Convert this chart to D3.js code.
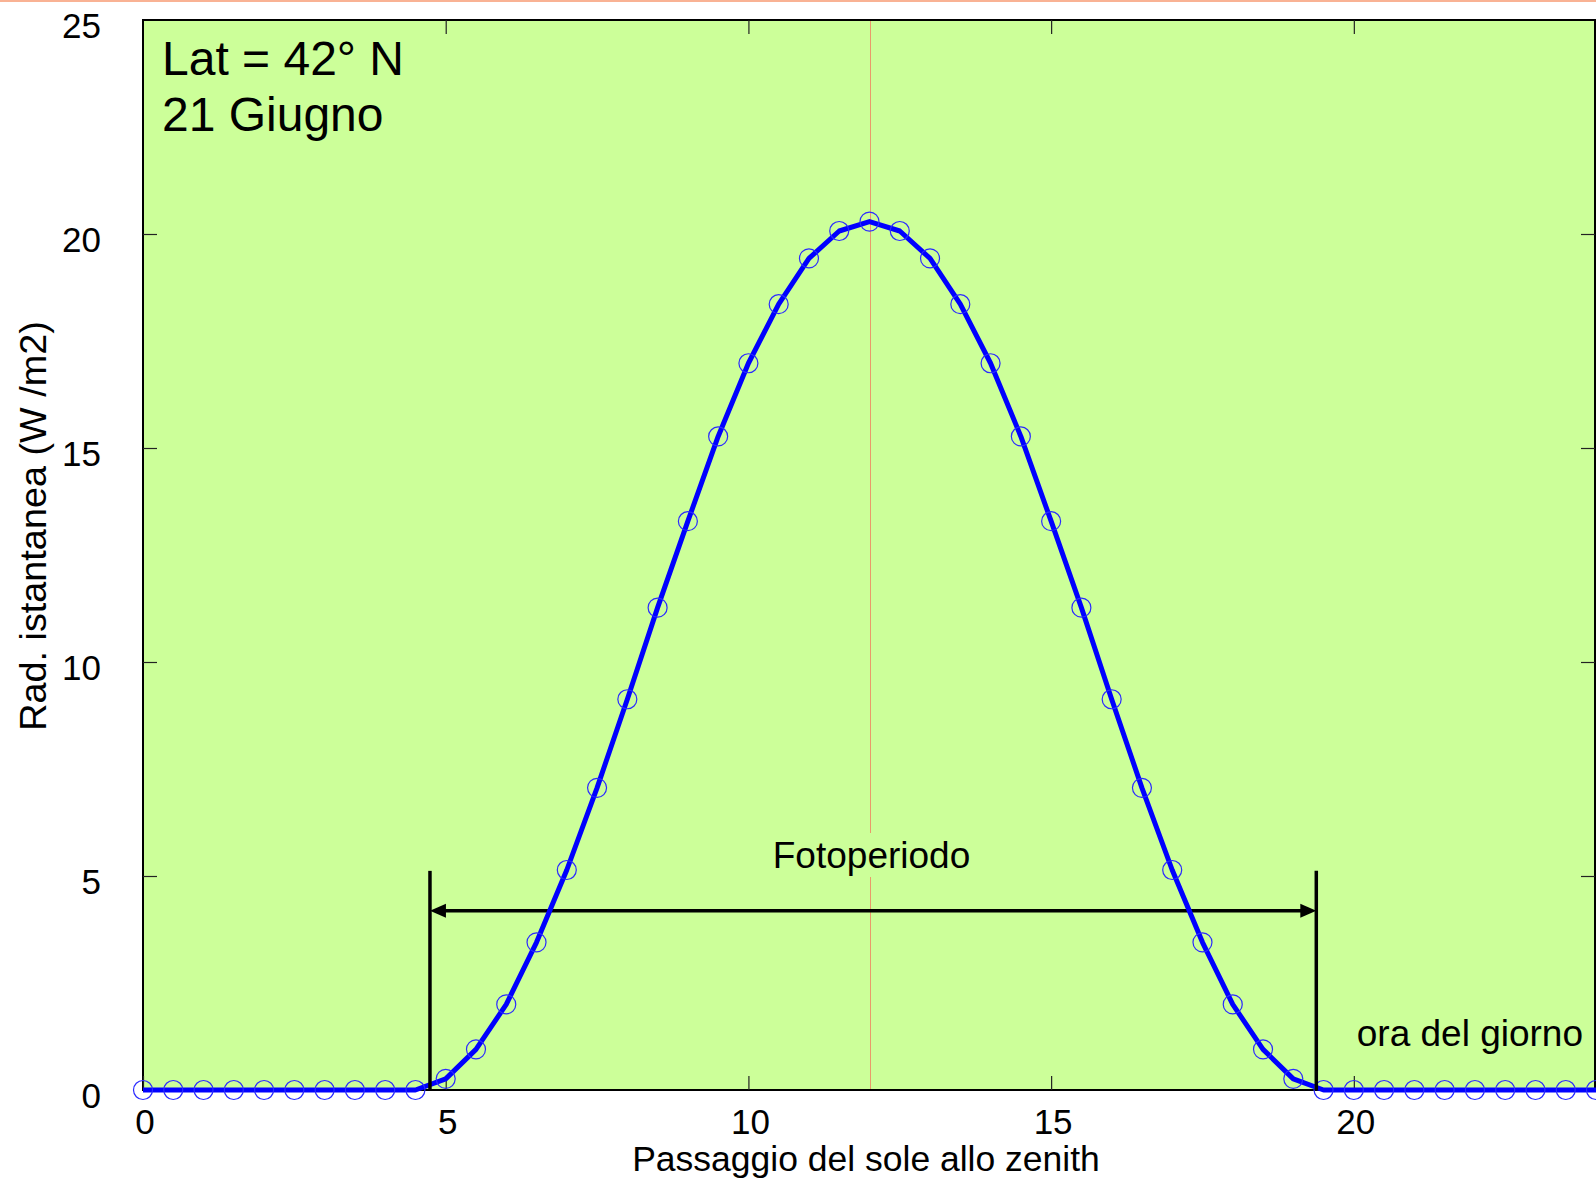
<!DOCTYPE html>
<html>
<head>
<meta charset="utf-8">
<script src="https://cdn.jsdelivr.net/npm/d3@7"></script>
<style>
  html, body { margin: 0; padding: 0; background: #ffffff; }
  svg { display: block; }
  text { font-family: "Liberation Sans", Arial, Helvetica, sans-serif; fill: #000; }
</style>
</head>
<body>
<svg id="chart" width="1596" height="1186"></svg>
<script>
// Half-hourly instantaneous radiation, 42° N, 21 June
const hours = [
  0, 0.5, 1, 1.5, 2, 2.5, 3, 3.5, 4, 4.5,
  5, 5.5, 6, 6.5, 7, 7.5, 8, 8.5, 9, 9.5,
  10, 10.5, 11, 11.5, 12, 12.5, 13, 13.5, 14, 14.5,
  15, 15.5, 16, 16.5, 17, 17.5, 18, 18.5, 19, 19.5,
  20, 20.5, 21, 21.5, 22, 22.5, 23, 23.5, 24
];
const radiation = [
  0, 0, 0, 0, 0, 0, 0, 0, 0, 0,
  0.26, 0.95, 2.0, 3.45, 5.14, 7.06, 9.13, 11.27, 13.29, 15.27,
  16.98, 18.36, 19.43, 20.07, 20.29, 20.07, 19.43, 18.36, 16.98, 15.27,
  13.29, 11.27, 9.13, 7.06, 5.14, 3.45, 2.0, 0.95, 0.26, 0,
  0, 0, 0, 0, 0, 0, 0, 0, 0
];

// Sunrise / sunset (hours) bounding the photoperiod
const photoperiod = [4.74, 19.38];
const noon = 12;

const xTicks = [0, 5, 10, 15, 20];
const yTicks = [0, 5, 10, 15, 20, 25];

const labels = {
  x: "Passaggio del sole allo zenith",
  y: "Rad. istantanea (W /m2)",
  site: ["Lat = 42° N", "21 Giugno"],
  period: "Fotoperiodo",
  hourAxis: "ora del giorno"
};

const data = hours.map((h, i) => ({ h, v: radiation[i] }));

const svg = d3.select("#chart");
const W = 1596, H = 1186;
const plot = { left: 143, right: 1595, top: 20, bottom: 1090 };

const x = d3.scaleLinear().domain([0, 24]).range([plot.left, W]);
const y = d3.scaleLinear().domain([0, 25]).range([plot.bottom, plot.top]);

// thin salmon rule along the top edge of the page
svg.append("rect").attr("x", 0).attr("y", 0).attr("width", W).attr("height", 2)
  .attr("fill", "#f9b294");

// plot background
svg.append("rect")
  .attr("x", plot.left).attr("y", plot.top)
  .attr("width", plot.right - plot.left).attr("height", plot.bottom - plot.top)
  .attr("fill", "#ccff99");

// solar noon marker
svg.append("line")
  .attr("x1", Math.round(x(noon)) + 0.5).attr("x2", Math.round(x(noon)) + 0.5)
  .attr("y1", plot.top).attr("y2", plot.bottom)
  .attr("stroke", "#ea9a6a").attr("stroke-width", 1);

// frame
svg.append("rect")
  .attr("x", plot.left).attr("y", plot.top)
  .attr("width", plot.right - plot.left).attr("height", plot.bottom - plot.top)
  .attr("fill", "none").attr("stroke", "#000").attr("stroke-width", 2);

// inward ticks on all four sides
const tickLen = 14;
const axB = d3.axisBottom(x).tickValues(xTicks).tickSize(-tickLen).tickFormat("");
const axT = d3.axisTop(x).tickValues(xTicks.filter(t => t > 0)).tickSize(-tickLen).tickFormat("");
const axL = d3.axisLeft(y).tickValues(yTicks.filter(t => t > 0 && t < 25)).tickSize(-tickLen).tickFormat("");
const axR = d3.axisRight(y).tickValues(yTicks.filter(t => t > 0 && t < 25)).tickSize(-tickLen).tickFormat("");
[[axB, `translate(0,${plot.bottom})`], [axT, `translate(0,${plot.top})`],
 [axL, `translate(${plot.left},0)`], [axR, `translate(${plot.right},0)`]].forEach(([ax, tr]) => {
  const g = svg.append("g").attr("transform", tr).call(ax);
  g.select(".domain").remove();
  g.selectAll(".tick line").attr("stroke", "#222").attr("stroke-width", 1.2);
});

// tick labels
svg.append("g").selectAll("text").data(xTicks).join("text")
  .attr("x", d => x(d) + 2).attr("y", 1134)
  .attr("text-anchor", "middle").attr("font-size", 35)
  .text(d => d);
svg.append("g").selectAll("text").data(yTicks).join("text")
  .attr("x", 101).attr("y", d => y(d) + 17.5)
  .attr("text-anchor", "end").attr("font-size", 35)
  .text(d => d);

// axis titles
svg.append("text")
  .attr("x", 866).attr("y", 1171)
  .attr("text-anchor", "middle").attr("font-size", 35.5)
  .text(labels.x);
svg.append("text")
  .attr("transform", "translate(46,526) rotate(-90)")
  .attr("text-anchor", "middle").attr("font-size", 37.8)
  .text(labels.y);

// site / date
svg.append("text").attr("x", 162).attr("y", 75).attr("font-size", 48).text(labels.site[0]);
svg.append("text").attr("x", 162).attr("y", 131).attr("font-size", 48).text(labels.site[1]);

// photoperiod label with a patch of background behind it
const per = svg.append("g");
const perText = per.append("text")
  .attr("x", x(noon) + 2).attr("y", 868)
  .attr("text-anchor", "middle").attr("font-size", 37)
  .text(labels.period);
const bb = perText.node().getBBox();
per.insert("rect", "text")
  .attr("x", bb.x - 4).attr("y", 833)
  .attr("width", bb.width + 8).attr("height", 44)
  .attr("fill", "#ccff99");

// photoperiod double arrow
const arrowY = y(4.19);
const x0 = x(photoperiod[0]), x1 = x(photoperiod[1]);
const head = 16, half = 7;
svg.append("line")
  .attr("x1", x0 + 6).attr("x2", x1 - 6)
  .attr("y1", arrowY).attr("y2", arrowY)
  .attr("stroke", "#000").attr("stroke-width", 3.5);
svg.append("path")
  .attr("d", `M${x0},${arrowY} L${x0 + head},${arrowY - half} L${x0 + head},${arrowY + half} Z`)
  .attr("fill", "#000");
svg.append("path")
  .attr("d", `M${x1},${arrowY} L${x1 - head},${arrowY - half} L${x1 - head},${arrowY + half} Z`)
  .attr("fill", "#000");

// "hour of the day" label
svg.append("text")
  .attr("x", 1583).attr("y", 1046)
  .attr("text-anchor", "end").attr("font-size", 37)
  .text(labels.hourAxis);

// radiation curve
const line = d3.line().x(d => x(d.h)).y(d => y(d.v));
svg.append("path")
  .datum(data)
  .attr("d", line)
  .attr("fill", "none")
  .attr("stroke", "#0000ff")
  .attr("stroke-width", 5)
  .attr("stroke-linejoin", "round");

// sample markers
svg.append("g").selectAll("circle").data(data).join("circle")
  .attr("cx", d => x(d.h)).attr("cy", d => y(d.v))
  .attr("r", 9.5)
  .attr("fill", "none")
  .attr("stroke", "#2a2aff")
  .attr("stroke-width", 1.2);

// sunrise / sunset bars
svg.append("g").selectAll("line").data(photoperiod).join("line")
  .attr("x1", d => x(d)).attr("x2", d => x(d))
  .attr("y1", y(5.12)).attr("y2", plot.bottom)
  .attr("stroke", "#000").attr("stroke-width", 3.5);
</script>
</body>
</html>
